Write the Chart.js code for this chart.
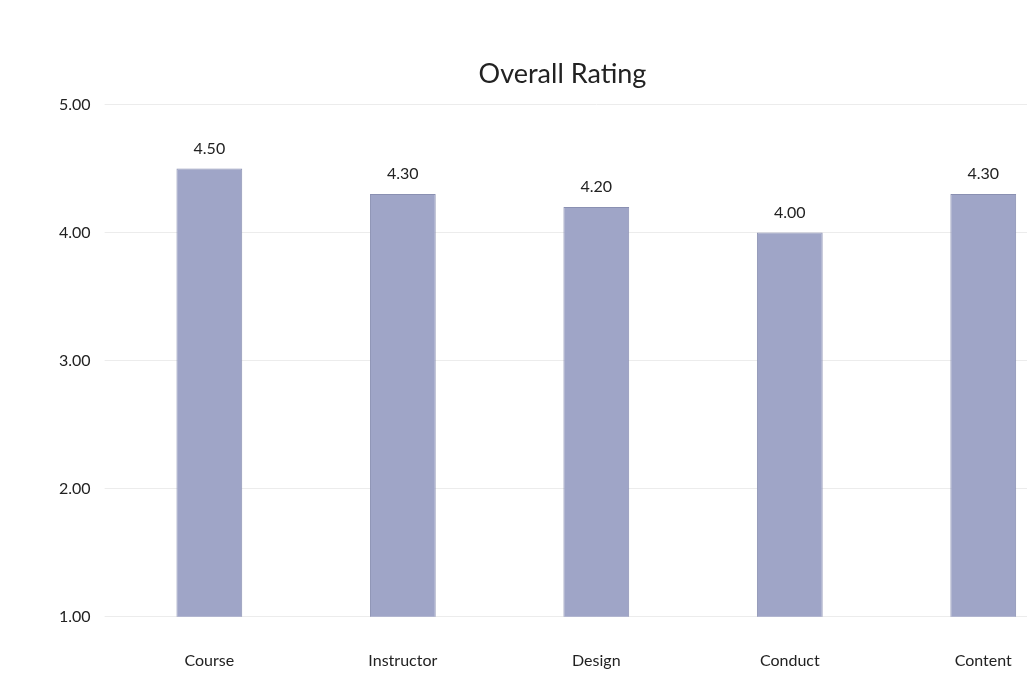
<!DOCTYPE html>
<html>
<head>
    <title>Overall Rating</title>
    <script src="https://cdn.jsdelivr.net/npm/chart.js"></script>
    <style>
        body { margin: 0; background: #ffffff; overflow: hidden; }
        /* wider than the window: the scan cuts the last bar close to the edge */
        .chart-container { width: 1080px; height: 698px; }
    </style>
</head>
<body>
    <div class="chart-container">
        <canvas id="ratingChart"></canvas>
    </div>
    <script>
        const categories = ['Course', 'Instructor', 'Design', 'Conduct', 'Content'];
        const ratings = [4.5, 4.3, 4.2, 4.0, 4.3];
        const tickValues = [1, 2, 3, 4, 5];

        // draws the value above each bar
        const valueLabels = {
            id: 'valueLabels',
            afterDatasetsDraw(chart) {
                const ctx = chart.ctx;
                const meta = chart.getDatasetMeta(0);
                ctx.save();
                ctx.fillStyle = '#222222';
                ctx.font = '16px Lato';
                ctx.textAlign = 'center';
                ctx.textBaseline = 'bottom';
                meta.data.forEach((bar, i) => {
                    ctx.fillText(ratings[i].toFixed(2), bar.x, bar.y - 12);
                });
                ctx.restore();
            }
        };

        const ctx = document.getElementById('ratingChart').getContext('2d');
        new Chart(ctx, {
            type: 'bar',
            data: {
                labels: categories,
                datasets: [{
                    data: ratings,
                    backgroundColor: '#9fa5c7',
                    borderColor: '#8a90b2',
                    borderWidth: 1,
                    barPercentage: 0.34,
                    categoryPercentage: 1.0
                }]
            },
            options: {
                responsive: true,
                maintainAspectRatio: false,
                animation: false,
                layout: { padding: { left: 45, right: 0, top: 20, bottom: 2 } },
                plugins: {
                    legend: { display: false },
                    tooltip: { enabled: false },
                    title: {
                        display: true,
                        text: 'Overall Rating',
                        color: '#222222',
                        font: { family: 'Lato', size: 27, weight: 'normal' },
                        padding: { top: 38, bottom: 14 }
                    }
                },
                scales: {
                    x: {
                        grid: { display: false },
                        border: { display: false },
                        ticks: {
                            color: '#222222',
                            font: { family: 'Lato', size: 16 },
                            padding: 26
                        }
                    },
                    y: {
                        min: 1,
                        max: 5,
                        afterBuildTicks(axis) {
                            axis.ticks = tickValues.map(v => ({ value: v }));
                        },
                        grid: { color: '#ececec' },
                        border: { display: false },
                        ticks: {
                            color: '#222222',
                            font: { family: 'Lato', size: 16 },
                            padding: 14,
                            callback: v => v.toFixed(2)
                        }
                    }
                }
            },
            plugins: [valueLabels]
        });
    </script>
</body>
</html>
